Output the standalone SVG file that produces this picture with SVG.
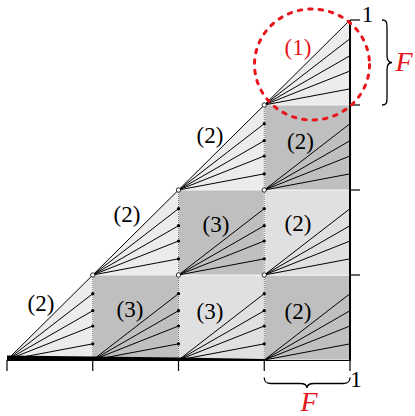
<svg xmlns="http://www.w3.org/2000/svg" width="415" height="416" viewBox="0 0 415 416">
<style>
.tri{fill:#ececec;}
.dark{fill:#bfbfbf;stroke:#f3f3f3;stroke-width:1;}
.light{fill:#e0e0e0;stroke:#f3f3f3;stroke-width:1;}
.fan{fill:none;stroke:#000;stroke-width:1;}
.dotl{fill:none;stroke:#777;stroke-width:1;stroke-dasharray:1 1;}
.dot{fill:#000;}
.oc{fill:#fff;stroke:#000;stroke-width:0.8;}
.lbl{font-family:"Liberation Serif","DejaVu Serif",serif;font-size:23px;text-anchor:middle;fill:#000;}
.red{fill:#e8141b;}
.F{font-family:"Liberation Serif","DejaVu Serif",serif;font-style:italic;font-size:28px;text-anchor:middle;fill:#e8141b;}
.ax{fill:none;stroke:#000;stroke-width:1.2;}
</style>
<g id="cells">
<polygon class="tri" points="7,360 92.75,360 92.75,275"/>
<polygon class="tri" points="92.75,275 178.5,275 178.5,190"/>
<polygon class="tri" points="178.5,190 264.25,190 264.25,105"/>
<polygon class="tri" points="264.25,105 350,105 350,20"/>
<rect class="dark" x="92.75" y="275" width="85.75" height="85"/>
<rect class="light" x="178.5" y="275" width="85.75" height="85"/>
<rect class="dark" x="264.25" y="275" width="85.75" height="85"/>
<rect class="dark" x="178.5" y="190" width="85.75" height="85"/>
<rect class="light" x="264.25" y="190" width="85.75" height="85"/>
<rect class="dark" x="264.25" y="105" width="85.75" height="85"/>
</g>
<g id="dotted">
<line class="dotl" x1="92.75" y1="275" x2="92.75" y2="360"/>
<line class="dotl" x1="178.5" y1="190" x2="178.5" y2="360"/>
<line class="dotl" x1="264.25" y1="105" x2="264.25" y2="360"/>
</g>
<g id="connectors">
<line class="fan" x1="7" y1="360" x2="350" y2="20"/>
<path class="fan" d="M7,360L92.75,293.7M7,360L92.75,310.7M7,360L92.75,326M7,360L92.75,343.85"/>
<path class="fan" d="M92.75,360L178.5,293.7M92.75,360L178.5,310.7M92.75,360L178.5,326M92.75,360L178.5,343.85"/>
<path class="fan" d="M178.5,360L264.25,293.7M178.5,360L264.25,310.7M178.5,360L264.25,326M178.5,360L264.25,343.85"/>
<path class="fan" d="M264.25,360L350,293.7M264.25,360L350,310.7M264.25,360L350,326M264.25,360L350,343.85"/>
<path class="fan" d="M92.75,275L178.5,208.7M92.75,275L178.5,225.7M92.75,275L178.5,241M92.75,275L178.5,258.85"/>
<path class="fan" d="M178.5,275L264.25,208.7M178.5,275L264.25,225.7M178.5,275L264.25,241M178.5,275L264.25,258.85"/>
<path class="fan" d="M264.25,275L350,208.7M264.25,275L350,225.7M264.25,275L350,241M264.25,275L350,258.85"/>
<path class="fan" d="M178.5,190L264.25,123.7M178.5,190L264.25,140.7M178.5,190L264.25,156M178.5,190L264.25,173.85"/>
<path class="fan" d="M264.25,190L350,123.7M264.25,190L350,140.7M264.25,190L350,156M264.25,190L350,173.85"/>
<path class="fan" d="M264.25,105L350,38.7M264.25,105L350,55.7M264.25,105L350,71M264.25,105L350,88.85"/>
</g>
<g id="points">
<circle class="dot" cx="92.75" cy="293.7" r="1.6"/><circle class="dot" cx="92.75" cy="310.7" r="1.6"/><circle class="dot" cx="92.75" cy="326" r="1.6"/><circle class="dot" cx="92.75" cy="343.85" r="1.6"/>
<circle class="dot" cx="178.5" cy="293.7" r="1.6"/><circle class="dot" cx="178.5" cy="310.7" r="1.6"/><circle class="dot" cx="178.5" cy="326" r="1.6"/><circle class="dot" cx="178.5" cy="343.85" r="1.6"/>
<circle class="dot" cx="264.25" cy="293.7" r="1.6"/><circle class="dot" cx="264.25" cy="310.7" r="1.6"/><circle class="dot" cx="264.25" cy="326" r="1.6"/><circle class="dot" cx="264.25" cy="343.85" r="1.6"/>
<circle class="dot" cx="178.5" cy="208.7" r="1.6"/><circle class="dot" cx="178.5" cy="225.7" r="1.6"/><circle class="dot" cx="178.5" cy="241" r="1.6"/><circle class="dot" cx="178.5" cy="258.85" r="1.6"/>
<circle class="dot" cx="264.25" cy="208.7" r="1.6"/><circle class="dot" cx="264.25" cy="225.7" r="1.6"/><circle class="dot" cx="264.25" cy="241" r="1.6"/><circle class="dot" cx="264.25" cy="258.85" r="1.6"/>
<circle class="dot" cx="264.25" cy="123.7" r="1.6"/><circle class="dot" cx="264.25" cy="140.7" r="1.6"/><circle class="dot" cx="264.25" cy="156" r="1.6"/><circle class="dot" cx="264.25" cy="173.85" r="1.6"/>
<circle class="oc" cx="92.75" cy="275" r="2.2"/>
<circle class="oc" cx="178.5" cy="275" r="2.2"/>
<circle class="oc" cx="264.25" cy="275" r="2.2"/>
<circle class="oc" cx="178.5" cy="190" r="2.2"/>
<circle class="oc" cx="264.25" cy="190" r="2.2"/>
<circle class="oc" cx="264.25" cy="105" r="2.2"/>
</g>
<g id="axes">
<polygon points="7,355.5 92.75,356.5 178.5,357.5 264.25,359 264.25,361 7,361" fill="#000"/>
<line class="ax" x1="7" y1="360.5" x2="350" y2="360.5"/>
<line class="ax" x1="7" y1="360" x2="7" y2="371"/>
<line class="ax" x1="92.75" y1="360" x2="92.75" y2="371"/>
<line class="ax" x1="178.5" y1="360" x2="178.5" y2="371"/>
<line class="ax" x1="264.25" y1="360" x2="264.25" y2="371"/>
<line class="ax" x1="350" y1="360" x2="350" y2="371"/>
<line x1="350" y1="20" x2="350" y2="361" stroke="#000" stroke-width="2"/>
<line class="ax" x1="350" y1="20" x2="360" y2="20"/>
<line class="ax" x1="350" y1="105" x2="360" y2="105"/>
<line class="ax" x1="350" y1="190" x2="360" y2="190"/>
<line class="ax" x1="350" y1="275" x2="360" y2="275"/>
<text class="lbl" x="367.5" y="22">1</text>
<text class="lbl" x="356" y="387">1</text>
</g>
<g id="labels">
<text class="lbl red" x="298" y="55">(1)</text>
<text class="lbl" x="300.5" y="149">(2)</text>
<text class="lbl" x="210" y="142.5">(2)</text>
<text class="lbl" x="127" y="222">(2)</text>
<text class="lbl" x="41" y="311">(2)</text>
<text class="lbl" x="130" y="317">(3)</text>
<text class="lbl" x="216" y="231.5">(3)</text>
<text class="lbl" x="210" y="319">(3)</text>
<text class="lbl" x="298" y="231">(2)</text>
<text class="lbl" x="298" y="319">(2)</text>
</g>
<g id="brace-right">
<path d="M382,20 C386.5,20 387,22 387,27 L387,55 C387,60 388.5,62.5 392,62.5 C388.5,62.5 387,65 387,70 L387,98 C387,103 386.5,105 382,105" fill="none" stroke="#000" stroke-width="1.3"/>
<text class="F" x="404" y="71">F</text>
</g>
<g id="brace-bottom">
<path d="M264.25,377.5 C264.25,382 266,383.5 271,383.5 L300,383.5 C305,383.5 307,385 307,388 C307,385 309,383.5 314,383.5 L343,383.5 C348,383.5 350,382 350,377.5" fill="none" stroke="#000" stroke-width="1.3"/>
<text class="F" x="309" y="411">F</text>
</g>
<g id="highlight">
<ellipse cx="312" cy="64.5" rx="57.5" ry="55.5" fill="none" stroke="#e8141b" stroke-width="3" stroke-dasharray="3.5 7" stroke-linecap="round"/>
</g>
</svg>
